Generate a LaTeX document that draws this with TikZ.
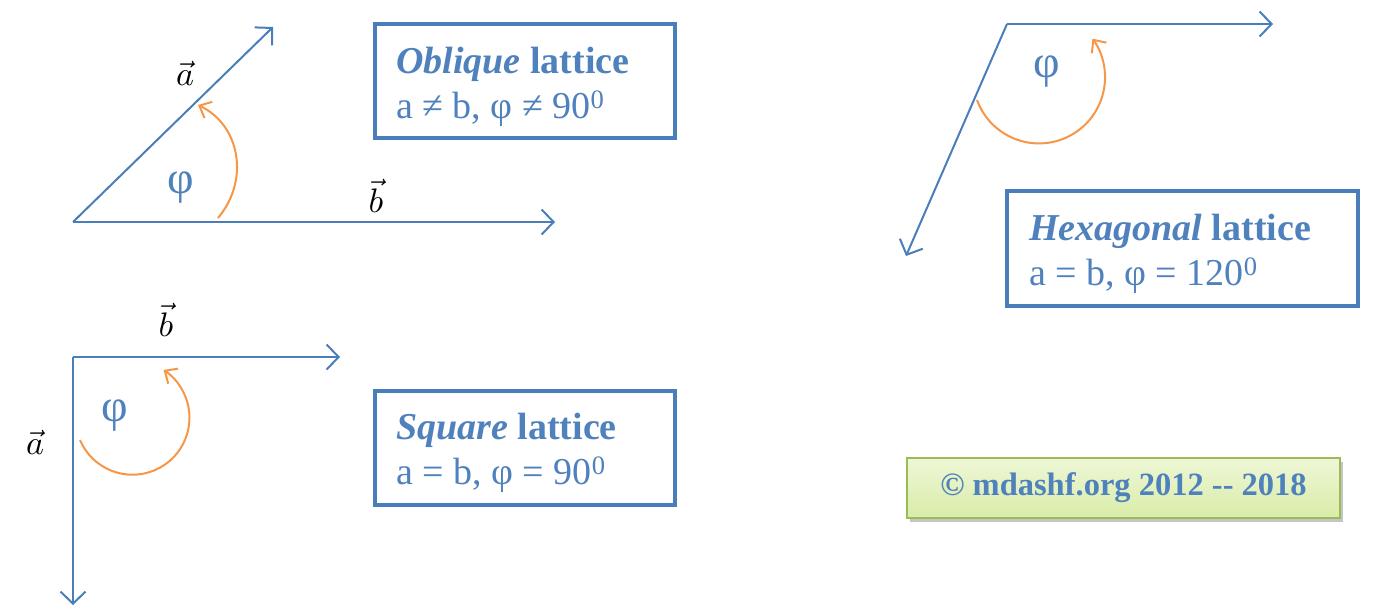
\documentclass[tikz,border=0pt]{standalone}
\usepackage{graphicx}
\usepackage{fontspec}
\setmainfont{Liberation Serif}
\usetikzlibrary{arrows.meta,shadows}
\definecolor{lineblue}{HTML}{4A7EBB}
\definecolor{textblue}{HTML}{4F81BD}
\definecolor{arcorange}{HTML}{F79646}
\definecolor{boxgreen}{HTML}{9BBB59}
\definecolor{greentop}{HTML}{EEF7D6}
\definecolor{greenbot}{HTML}{D9ECA8}
\newcommand{\biglab}[1]{\scalebox{3.4}{$\vec{#1}$}}
\tikzset{
  vecline/.style={draw=lineblue, line width=2pt, -{Straight Barb[length=12pt,width=25pt,line width=2pt]}},
  anglearc/.style={draw=arcorange, line width=2pt, -{Straight Barb[length=10pt,width=18pt,line width=2pt]}},
  infobox/.style={draw=lineblue, line width=4pt},
  boxtext/.style={text=textblue, anchor=base west, inner sep=0pt, font=\fontsize{38}{38}\selectfont},
  philabel/.style={text=textblue, inner sep=0pt, font=\fontsize{46}{46}\selectfont},
  veclabel/.style={text=black, inner sep=0pt},
}
\begin{document}
\begin{tikzpicture}[x=1pt,y=-1pt]
\useasboundingbox (0,0) rectangle (1374,613);
% ---------- Oblique ----------
\coordinate (oO) at (73,222);
\coordinate (oB) at (555,222);
\coordinate (oA) at (273,27);
\draw[vecline] (oO) -- (oB);
\draw[vecline] (oO) -- (oA);
\coordinate (oarcS) at (218,218);
\coordinate (oarcE) at (198,105);
\draw[anglearc] (oarcS) .. controls (250,180) and (240,125) .. (oarcE);
\node[philabel] (ophi) at (181,188) {φ};
\node[veclabel] (oalab) at (185,73) {\biglab{a}};
\node[veclabel] (oblab) at (376,196) {\biglab{b}};
\draw[infobox] (375,24) rectangle (675,138);
\node[boxtext] (ot1) at (396,73) {\textbf{\textit{Oblique}} \textbf{lattice}};
\node[boxtext] (ot2) at (396,118) {a ≠ b, φ ≠ 90\textsuperscript{0}};
% ---------- Square ----------
\coordinate (sO) at (73,357);
\coordinate (sB) at (340,357);
\coordinate (sA) at (73,605);
\draw[vecline] (sO) -- (sB);
\draw[vecline] (sO) -- (sA);
\draw[anglearc] (80,440) arc[start angle=157, end angle=-57, radius=57];
\node[philabel] (sphi) at (115,416) {φ};
\node[veclabel] (sblab) at (166,320) {\biglab{b}};
\node[veclabel] (salab) at (35,442) {\biglab{a}};
\draw[infobox] (375,391) rectangle (675,505);
\node[boxtext] (st1) at (396,439) {\textbf{\textit{Square}} \textbf{lattice}};
\node[boxtext] (st2) at (396,484) {a = b, φ = 90\textsuperscript{0}};
% ---------- Hexagonal ----------
\coordinate (hO) at (1007,24);
\coordinate (hB) at (1273,24);
\coordinate (hA) at (906,256);
\draw[vecline] (hO) -- (hB);
\draw[vecline] (hO) -- (hA);
\draw[anglearc] (977,100) arc[start angle=160, end angle=-36, radius=66];
\node[philabel] (hphi) at (1047,72) {φ};
\draw[infobox] (1007,191) rectangle (1358,306);
\node[boxtext] (ht1) at (1029,240) {\textbf{\textit{Hexagonal}} \textbf{lattice}};
\node[boxtext] (ht2) at (1029,285) {a = b, φ = 120\textsuperscript{0}};
% ---------- Copyright ----------
\node[draw=boxgreen, line width=2pt, top color=greentop, bottom color=greenbot,
      drop shadow={shadow xshift=3pt, shadow yshift=-4pt, fill=black!45, opacity=0.5},
      minimum width=433pt, minimum height=60pt, inner sep=0pt,
      text=textblue, font=\fontsize{32.5}{32.5}\selectfont\bfseries]
      (copy) at (1123.5,488) {© mdashf.org 2012 -{}- 2018};
\end{tikzpicture}
\end{document}
